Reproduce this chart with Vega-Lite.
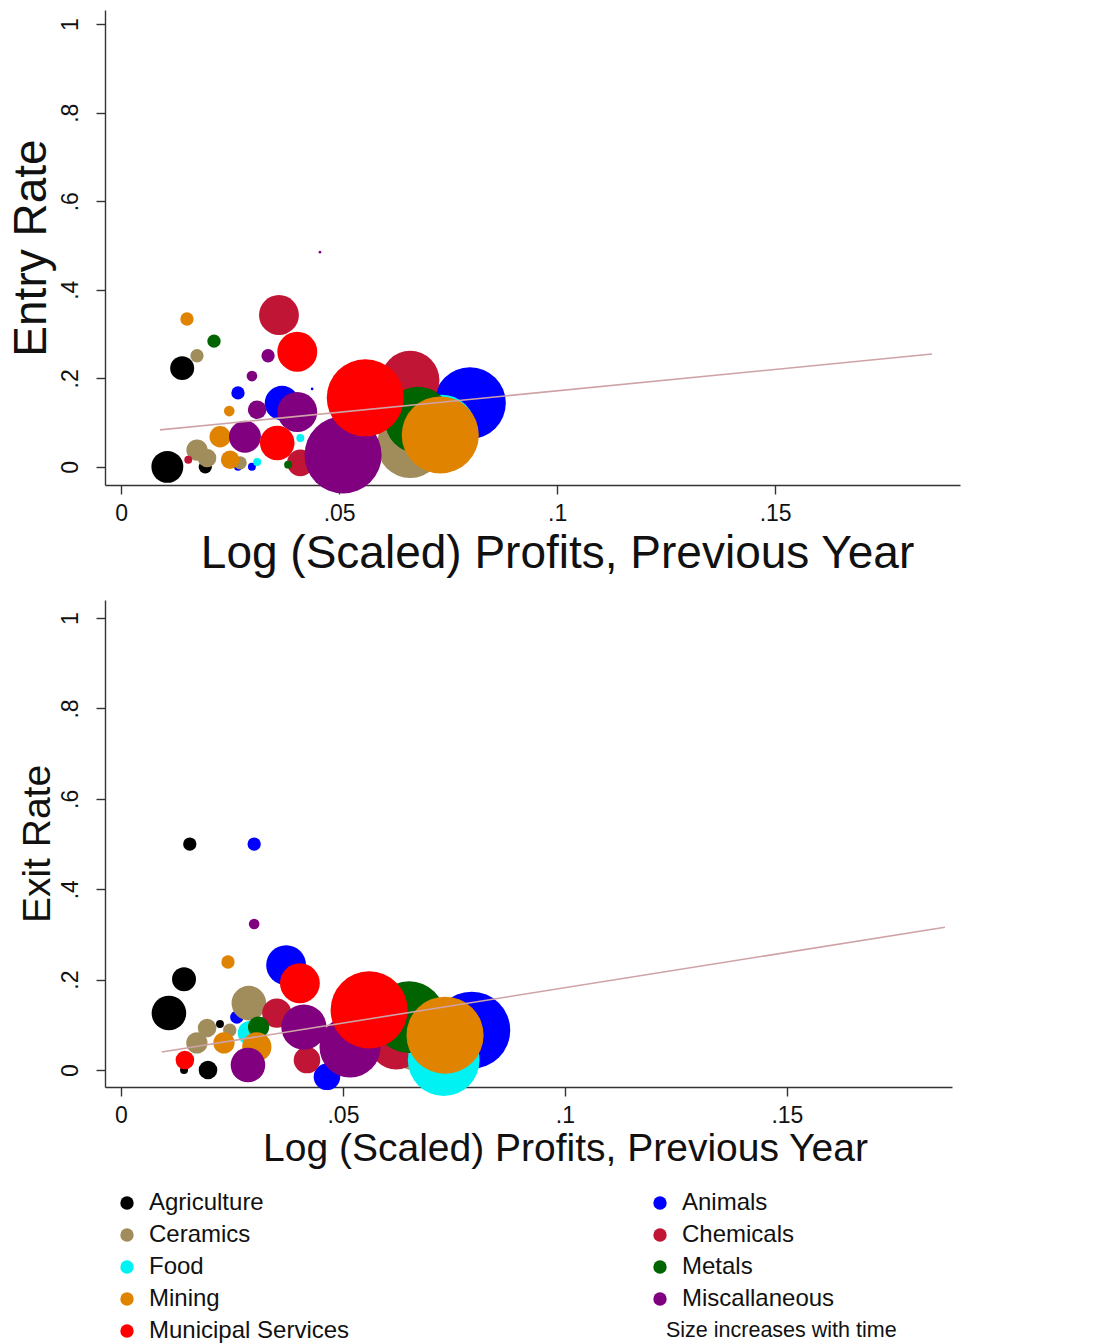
{
  "$schema": "https://vega.github.io/schema/vega-lite/v6.json",
  "background": "white",
  "padding": {"left": 8, "top": 10, "right": 5, "bottom": 5},
  "config": {
    "font": "Liberation Sans",
    "view": {"stroke": null},
    "axis": {"grid": false, "domainColor": "#333", "tickColor": "#333", "tickSize": 9, "domainWidth": 1.4, "tickWidth": 1.4, "labelColor": "#111", "titleColor": "#111", "titleFontWeight": "normal", "labelFont": "Liberation Sans", "titleFont": "Liberation Sans"}
  },
  "datasets": {
    "pts": [
      {"panel": "Entry", "industry": "Agriculture", "period": 5, "x": 0.0193, "y": 0.0},
      {"panel": "Entry", "industry": "Agriculture", "period": 9, "x": 0.0140, "y": 0.223},
      {"panel": "Entry", "industry": "Agriculture", "period": 12, "x": 0.0106, "y": 0.0},
      {"panel": "Entry", "industry": "Animals", "period": 1, "x": 0.0438, "y": 0.176},
      {"panel": "Entry", "industry": "Animals", "period": 3, "x": 0.0268, "y": 0.0},
      {"panel": "Entry", "industry": "Animals", "period": 3, "x": 0.0300, "y": 0.0},
      {"panel": "Entry", "industry": "Animals", "period": 5, "x": 0.0268, "y": 0.167},
      {"panel": "Entry", "industry": "Animals", "period": 13, "x": 0.0369, "y": 0.144},
      {"panel": "Entry", "industry": "Animals", "period": 27, "x": 0.0800, "y": 0.144},
      {"panel": "Entry", "industry": "Ceramics", "period": 4, "x": 0.0245, "y": 0.011},
      {"panel": "Entry", "industry": "Ceramics", "period": 5, "x": 0.0174, "y": 0.251},
      {"panel": "Entry", "industry": "Ceramics", "period": 5, "x": 0.0273, "y": 0.009},
      {"panel": "Entry", "industry": "Ceramics", "period": 7, "x": 0.0197, "y": 0.020},
      {"panel": "Entry", "industry": "Ceramics", "period": 8, "x": 0.0174, "y": 0.038},
      {"panel": "Entry", "industry": "Ceramics", "period": 25, "x": 0.0663, "y": 0.050},
      {"panel": "Entry", "industry": "Chemicals", "period": 3, "x": 0.0154, "y": 0.016},
      {"panel": "Entry", "industry": "Chemicals", "period": 10, "x": 0.0411, "y": 0.009},
      {"panel": "Entry", "industry": "Chemicals", "period": 15, "x": 0.0362, "y": 0.343},
      {"panel": "Entry", "industry": "Chemicals", "period": 22, "x": 0.0663, "y": 0.196},
      {"panel": "Entry", "industry": "Food", "period": 3, "x": 0.0312, "y": 0.011},
      {"panel": "Entry", "industry": "Food", "period": 3, "x": 0.0411, "y": 0.065},
      {"panel": "Entry", "industry": "Food", "period": 25, "x": 0.0736, "y": 0.088},
      {"panel": "Entry", "industry": "Metals", "period": 3, "x": 0.0383, "y": 0.005},
      {"panel": "Entry", "industry": "Metals", "period": 5, "x": 0.0213, "y": 0.284},
      {"panel": "Entry", "industry": "Metals", "period": 25, "x": 0.0681, "y": 0.106},
      {"panel": "Entry", "industry": "Mining", "period": 4, "x": 0.0248, "y": 0.126},
      {"panel": "Entry", "industry": "Mining", "period": 5, "x": 0.0151, "y": 0.334},
      {"panel": "Entry", "industry": "Mining", "period": 7, "x": 0.0250, "y": 0.016},
      {"panel": "Entry", "industry": "Mining", "period": 8, "x": 0.0227, "y": 0.068},
      {"panel": "Entry", "industry": "Mining", "period": 29, "x": 0.0732, "y": 0.072},
      {"panel": "Entry", "industry": "Miscallaneous", "period": 1, "x": 0.0456, "y": 0.485},
      {"panel": "Entry", "industry": "Miscallaneous", "period": 4, "x": 0.0300, "y": 0.205},
      {"panel": "Entry", "industry": "Miscallaneous", "period": 5, "x": 0.0337, "y": 0.251},
      {"panel": "Entry", "industry": "Miscallaneous", "period": 7, "x": 0.0312, "y": 0.129},
      {"panel": "Entry", "industry": "Miscallaneous", "period": 12, "x": 0.0284, "y": 0.068},
      {"panel": "Entry", "industry": "Miscallaneous", "period": 15, "x": 0.0404, "y": 0.124},
      {"panel": "Entry", "industry": "Miscallaneous", "period": 29, "x": 0.0509, "y": 0.027},
      {"panel": "Entry", "industry": "Municipal Services", "period": 13, "x": 0.0358, "y": 0.054},
      {"panel": "Entry", "industry": "Municipal Services", "period": 15, "x": 0.0404, "y": 0.260},
      {"panel": "Entry", "industry": "Municipal Services", "period": 29, "x": 0.0560, "y": 0.156},
      {"panel": "Exit", "industry": "Agriculture", "period": 3, "x": 0.0142, "y": 0.0},
      {"panel": "Exit", "industry": "Agriculture", "period": 3, "x": 0.0223, "y": 0.102},
      {"panel": "Exit", "industry": "Agriculture", "period": 5, "x": 0.0155, "y": 0.500},
      {"panel": "Exit", "industry": "Agriculture", "period": 7, "x": 0.0196, "y": 0.0},
      {"panel": "Exit", "industry": "Agriculture", "period": 9, "x": 0.0142, "y": 0.201},
      {"panel": "Exit", "industry": "Agriculture", "period": 13, "x": 0.0108, "y": 0.126},
      {"panel": "Exit", "industry": "Animals", "period": 5, "x": 0.0300, "y": 0.500},
      {"panel": "Exit", "industry": "Animals", "period": 5, "x": 0.0261, "y": 0.117},
      {"panel": "Exit", "industry": "Animals", "period": 10, "x": 0.0464, "y": -0.015},
      {"panel": "Exit", "industry": "Animals", "period": 15, "x": 0.0372, "y": 0.232},
      {"panel": "Exit", "industry": "Animals", "period": 29, "x": 0.0790, "y": 0.088},
      {"panel": "Exit", "industry": "Ceramics", "period": 5, "x": 0.0245, "y": 0.088},
      {"panel": "Exit", "industry": "Ceramics", "period": 7, "x": 0.0194, "y": 0.093},
      {"panel": "Exit", "industry": "Ceramics", "period": 8, "x": 0.0171, "y": 0.060},
      {"panel": "Exit", "industry": "Ceramics", "period": 13, "x": 0.0288, "y": 0.148},
      {"panel": "Exit", "industry": "Ceramics", "period": 23, "x": 0.0667, "y": 0.066},
      {"panel": "Exit", "industry": "Chemicals", "period": 10, "x": 0.0419, "y": 0.022},
      {"panel": "Exit", "industry": "Chemicals", "period": 11, "x": 0.0351, "y": 0.126},
      {"panel": "Exit", "industry": "Chemicals", "period": 20, "x": 0.0620, "y": 0.060},
      {"panel": "Exit", "industry": "Food", "period": 9, "x": 0.0290, "y": 0.082},
      {"panel": "Exit", "industry": "Food", "period": 27, "x": 0.0727, "y": 0.022},
      {"panel": "Exit", "industry": "Metals", "period": 8, "x": 0.0310, "y": 0.095},
      {"panel": "Exit", "industry": "Metals", "period": 27, "x": 0.0649, "y": 0.117},
      {"panel": "Exit", "industry": "Mining", "period": 5, "x": 0.0241, "y": 0.239},
      {"panel": "Exit", "industry": "Mining", "period": 8, "x": 0.0232, "y": 0.060},
      {"panel": "Exit", "industry": "Mining", "period": 11, "x": 0.0306, "y": 0.051},
      {"panel": "Exit", "industry": "Mining", "period": 29, "x": 0.0730, "y": 0.077},
      {"panel": "Exit", "industry": "Miscallaneous", "period": 4, "x": 0.0300, "y": 0.323},
      {"panel": "Exit", "industry": "Miscallaneous", "period": 13, "x": 0.0286, "y": 0.011},
      {"panel": "Exit", "industry": "Miscallaneous", "period": 17, "x": 0.0412, "y": 0.095},
      {"panel": "Exit", "industry": "Miscallaneous", "period": 23, "x": 0.0516, "y": 0.051},
      {"panel": "Exit", "industry": "Municipal Services", "period": 7, "x": 0.0144, "y": 0.022},
      {"panel": "Exit", "industry": "Municipal Services", "period": 15, "x": 0.0403, "y": 0.192},
      {"panel": "Exit", "industry": "Municipal Services", "period": 29, "x": 0.0559, "y": 0.133}
    ],
    "fit": [
      {"panel": "Entry", "x": 0.0089, "y": 0.0835},
      {"panel": "Entry", "x": 0.186, "y": 0.255},
      {"panel": "Exit", "x": 0.0092, "y": 0.040},
      {"panel": "Exit", "x": 0.1856, "y": 0.316}
    ]
  },
  "spacing": 24,
  "vconcat": [
    {
      "width": 855,
      "height": 475,
      "layer": [
        {
          "data": {"name": "pts"},
          "transform": [{"filter": "datum.panel === 'Entry'"}],
          "mark": {"type": "circle", "opacity": 1, "strokeWidth": 0},
          "encoding": {
            "x": {"field": "x", "type": "quantitative", "scale": {"domain": [-0.0037, 0.1924], "nice": false, "zero": false},
              "axis": {"values": [0, 0.05, 0.1, 0.15], "labelExpr": "datum.value === 0 ? '0' : replace(toString(datum.value), '0.', '.')", "labelFontSize": 23, "labelPadding": 8, "title": "Log (Scaled) Profits, Previous Year", "titleFontSize": 46, "titlePadding": 6, "titleX": 452, "titleAlign": "center"}},
            "y": {"field": "y", "type": "quantitative", "scale": {"domain": [-0.041, 1.032], "nice": false, "zero": false},
              "axis": {"values": [0, 0.2, 0.4, 0.6, 0.8, 1], "labelExpr": "datum.value === 0 ? '0' : replace(toString(datum.value), '0.', '.')", "labelAngle": 270, "labelAlign": "center", "labelBaseline": "bottom", "labelFontSize": 23, "labelPadding": 14, "title": "Entry Rate", "titleFontSize": 46, "titlePadding": 4}},
            "color": {"field": "industry", "type": "nominal",
              "scale": {"domain": ["Agriculture", "Ceramics", "Food", "Mining", "Municipal Services", "Animals", "Chemicals", "Metals", "Miscallaneous", "Size increases with time"],
                "range": ["#000000", "#a08d5b", "#00f2f2", "#e08300", "#ff0000", "#0000ff", "#c01535", "#006400", "#800080", "rgba(0,0,0,0)"]},
              "legend": {"title": null, "orient": "none", "legendX": 10, "legendY": 1181, "columns": 2, "columnPadding": 298, "rowPadding": 8,
                "labelFontSize": {"expr": "datum.label === 'Size increases with time' ? 21.5 : 24"},
                "labelOffset": {"expr": "datum.label === 'Size increases with time' ? -6 : 10"},
                "labelFont": "Liberation Sans", "labelColor": "#111", "symbolType": "circle", "symbolSize": 180, "symbolStrokeWidth": 0, "labelLimit": 400}},
            "size": {"field": "period", "type": "quantitative", "scale": {"type": "pow", "exponent": 2, "domain": [0, 30], "range": [0, 6362]}, "legend": null}
          }
        },
        {
          "data": {"name": "fit"},
          "transform": [{"filter": "datum.panel === 'Entry'"}],
          "mark": {"type": "line", "color": "#cfa3a6", "strokeWidth": 1.6},
          "encoding": {
            "x": {"field": "x", "type": "quantitative"},
            "y": {"field": "y", "type": "quantitative"}
          }
        }
      ]
    },
    {
      "width": 847,
      "height": 487,
      "layer": [
        {
          "data": {"name": "pts"},
          "transform": [{"filter": "datum.panel === 'Exit'"}],
          "mark": {"type": "circle", "opacity": 1, "strokeWidth": 0},
          "encoding": {
            "x": {"field": "x", "type": "quantitative", "scale": {"domain": [-0.0036, 0.1872], "nice": false, "zero": false},
              "axis": {"values": [0, 0.05, 0.1, 0.15], "labelExpr": "datum.value === 0 ? '0' : replace(toString(datum.value), '0.', '.')", "labelFontSize": 23, "labelPadding": 8, "title": "Log (Scaled) Profits, Previous Year", "titleFontSize": 39, "titlePadding": 2, "titleX": 460, "titleAlign": "center"}},
            "y": {"field": "y", "type": "quantitative", "scale": {"domain": [-0.0376, 1.04], "nice": false, "zero": false},
              "axis": {"values": [0, 0.2, 0.4, 0.6, 0.8, 1], "labelExpr": "datum.value === 0 ? '0' : replace(toString(datum.value), '0.', '.')", "labelAngle": 270, "labelAlign": "center", "labelBaseline": "bottom", "labelFontSize": 23, "labelPadding": 14, "title": "Exit Rate", "titleFontSize": 39, "titlePadding": 2}},
            "color": {"field": "industry", "type": "nominal"},
            "size": {"field": "period", "type": "quantitative", "legend": null}
          }
        },
        {
          "data": {"name": "fit"},
          "transform": [{"filter": "datum.panel === 'Exit'"}],
          "mark": {"type": "line", "color": "#cfa3a6", "strokeWidth": 1.6},
          "encoding": {
            "x": {"field": "x", "type": "quantitative"},
            "y": {"field": "y", "type": "quantitative"}
          }
        }
      ]
    }
  ]
}
